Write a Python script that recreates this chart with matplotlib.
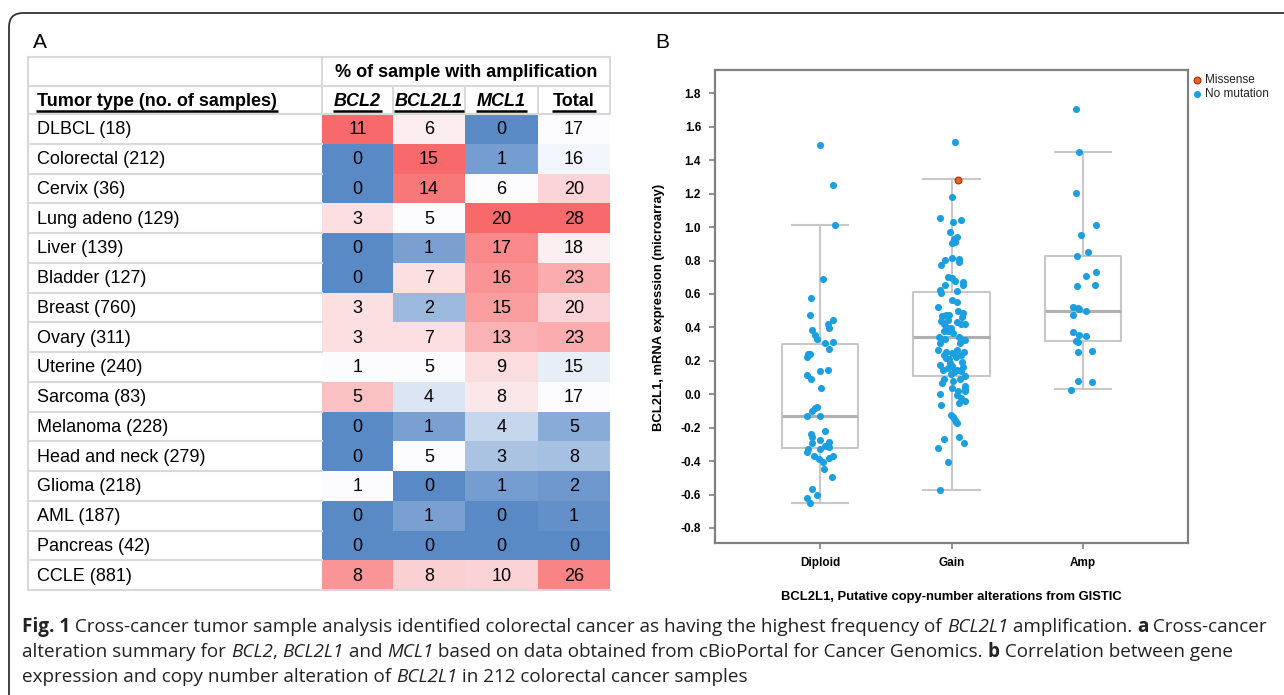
import matplotlib

matplotlib.use("Agg")
import matplotlib.pyplot as plt
from matplotlib.colors import LinearSegmentedColormap, TwoSlopeNorm
from matplotlib.patches import FancyBboxPatch, Rectangle

plt.rcParams["axes.unicode_minus"] = False

W, H = 1284, 695

# ── panel A data ──────────────────────────────────────────────────────────────
tumor_types = ["DLBCL (18)", "Colorectal (212)", "Cervix (36)", "Lung adeno (129)",
               "Liver (139)", "Bladder (127)", "Breast (760)", "Ovary (311)",
               "Uterine (240)", "Sarcoma (83)", "Melanoma (228)",
               "Head and neck (279)", "Glioma (218)", "AML (187)",
               "Pancreas (42)", "CCLE (881)"]
bcl2 = [11, 0, 0, 3, 0, 0, 3, 3, 1, 5, 0, 0, 1, 0, 0, 8]
bcl2l1 = [6, 15, 14, 5, 1, 7, 2, 7, 5, 4, 1, 5, 0, 1, 0, 8]
mcl1 = [0, 1, 6, 20, 17, 16, 15, 13, 9, 8, 4, 3, 1, 0, 0, 10]
total = [17, 16, 20, 28, 18, 23, 20, 23, 15, 17, 5, 8, 2, 1, 0, 26]
columns = ["BCL2", "BCL2L1", "MCL1", "Total"]

# ── panel B data ──────────────────────────────────────────────────────────────
groups = ["Diploid", "Gain", "Amp"]
diploid_expr = [1.494, 1.25, 1.01, 0.69, 0.578, 0.474, 0.444, 0.418, 0.396, 0.384,
                0.355, 0.329, 0.305, 0.311, 0.269, 0.241, 0.239, 0.221, 0.139, 0.147,
                0.118, 0.092, 0.040, -0.078, -0.084, -0.10, -0.131, -0.129, -0.217,
                -0.237, -0.253, -0.275, -0.293, -0.287, -0.309, -0.313, -0.325,
                -0.325, -0.345, -0.371, -0.371, -0.382, -0.388, -0.408, -0.448,
                -0.494, -0.564, -0.622, -0.604, -0.653]
diploid_jit = [0.00, 0.10, 0.11, 0.02, -0.07, -0.08, 0.10, 0.06, 0.07, -0.06,
               -0.04, -0.02, 0.04, 0.10, 0.07, -0.09, -0.075, -0.10, 0.00, 0.06,
               -0.10, -0.07, 0.01, -0.02, -0.04, -0.06, -0.10, 0.00, 0.04,
               -0.07, -0.06, 0.00, -0.06, 0.07, 0.04, 0.07, -0.09,
               0.00, -0.10, -0.05, 0.10, 0.07, -0.01, 0.02, 0.03,
               0.09, -0.06, -0.10, -0.025, -0.08]
gain_expr = [1.508, 1.182, 1.054, 1.028, 1.042, 0.97, 0.94, 0.93, 0.904, 0.908,
             0.816, 0.804, 0.81, 0.79, 0.774, 0.704, 0.698, 0.678, 0.672, 0.654,
             0.654, 0.622, 0.618, 0.604, 0.566, 0.554, 0.524, 0.498, 0.488, 0.474,
             0.468, 0.472, 0.460, 0.44, 0.444, 0.418, 0.434, 0.42, 0.42, 0.40,
             0.396, 0.378, 0.378, 0.365, 0.34, 0.345, 0.333, 0.325, 0.325, 0.305,
             0.309, 0.265, 0.255, 0.265, 0.255, 0.249, 0.237, 0.235, 0.215, 0.213,
             0.225, 0.177, 0.185, 0.193, 0.171, 0.155, 0.145, 0.147, 0.165, 0.139,
             0.133, 0.122, 0.11, 0.09, 0.082, 0.09, 0.066, 0.05, 0.03, 0.04,
             0.022, 0.022, 0.004, -0.004, -0.024, -0.038, -0.05, -0.064, -0.125,
             -0.137, -0.157, -0.173, -0.165, -0.253, -0.289, -0.267, -0.323,
             -0.408, -0.572]
gain_jit = [0.03, 0.00, -0.09, 0.01, 0.07, -0.01, 0.045, 0.02, 0.00, 0.03,
            0.00, -0.05, 0.06, 0.06, -0.08, -0.03, 0.00, 0.03, 0.09, -0.05,
            0.09, -0.09, 0.04, -0.08, 0.00, 0.04, -0.10, 0.05, 0.09, -0.04,
            -0.07, -0.02, 0.08, -0.08, -0.025, -0.06, 0.04, 0.07, 0.10, -0.045,
            -0.005, -0.055, -0.025, 0.015, -0.095, 0.06, -0.05, 0.08, 0.105, -0.09,
            0.065, -0.105, -0.04, 0.045, 0.095, 0.00, -0.055, 0.07, -0.04, -0.02,
            0.035, -0.09, -0.01, 0.08, 0.005, -0.03, -0.065, 0.04, 0.09, 0.07,
            0.02, -0.005, 0.105, -0.055, 0.015, 0.065, -0.07, 0.10, 0.10, 0.005,
            0.05, 0.10, -0.09, 0.04, 0.075, 0.10, 0.06, -0.08, -0.005,
            0.01, 0.025, 0.045, 0.035, 0.055, 0.095, -0.055, -0.10,
            -0.03, -0.09]
amp_expr = [1.706, 1.448, 1.204, 1.012, 0.95, 0.852, 0.828, 0.734, 0.71, 0.652,
            0.646, 0.524, 0.518, 0.508, 0.496, 0.472, 0.37, 0.357, 0.347, 0.319,
            0.313, 0.253, 0.261, 0.08, 0.076, 0.024]
amp_jit = [-0.053, -0.03, -0.053, 0.10, -0.013, 0.04, -0.047, 0.10, 0.025, 0.094,
           -0.044, -0.072, -0.04, -0.03, 0.02, -0.078, -0.075, -0.03, 0.02, -0.056,
           -0.04, -0.035, 0.072, -0.035, 0.07, -0.094]
missense_expr = [1.284]   # one sample in the Gain group
missense_jit = [0.05]

box_whislo = [-0.65, -0.57, 0.03]
box_q1 = [-0.32, 0.11, 0.32]
box_med = [-0.13, 0.34, 0.50]
box_q3 = [0.30, 0.61, 0.83]
box_whishi = [1.01, 1.29, 1.45]

# ── style ─────────────────────────────────────────────────────────────────────
BLUE_C = "#5a8ac6"
WHITE_C = "#fcfcff"
RED_C = "#f8696b"
GRID = "#d9d9d9"
DOT = "#1a9fe0"
BOXC = "#c8c8c8"
TFONT = "Liberation Sans"
CFONT = "Open Sans"
# colour-scale centre per column (each column is scaled on its own)
col_centre = [1, 5, 6, 17]

cmap = LinearSegmentedColormap.from_list("rwb", [BLUE_C, WHITE_C, RED_C])

fig = plt.figure(figsize=(W / 100, H / 100), dpi=100)
bg = fig.add_axes([0, 0, 1, 1])
bg.set_xlim(0, W)
bg.set_ylim(H, 0)
bg.axis("off")
rend = fig.canvas.get_renderer()

# outer rounded frame (runs off the right and bottom edges)
bg.add_patch(FancyBboxPatch((9, 13), 1400, 800,
                            boxstyle="round,pad=0,rounding_size=14",
                            fc="none", ec="#333333", lw=1.3, zorder=1))

# ── panel A: table ────────────────────────────────────────────────────────────
bg.text(33, 42, "A", fontsize=15, family=TFONT, va="center", ha="left")

xl0, xl1 = 28, 322
edges = [322, 393, 465, 538, 610]
yh0, yh1, yh2 = 57, 86, 114
rh = 29.75
nrow = len(tumor_types)
ybot = yh2 + nrow * rh

table_cols = [bcl2, bcl2l1, mcl1, total]
for j, vals in enumerate(table_cols):
    norm = TwoSlopeNorm(vmin=min(vals), vcenter=col_centre[j], vmax=max(vals))
    for i, v in enumerate(vals):
        y0 = yh2 + i * rh
        bg.add_patch(Rectangle((edges[j], y0), edges[j + 1] - edges[j], rh,
                               fc=cmap(norm(v)), ec="none", zorder=2))
        bg.text((edges[j] + edges[j + 1]) / 2, y0 + rh / 2 + 1, str(v),
                fontsize=13, family=TFONT, ha="center", va="center", zorder=4)

for i, name in enumerate(tumor_types):
    bg.text(37, yh2 + i * rh + rh / 2 + 1, name, fontsize=13, family=TFONT,
            ha="left", va="center", zorder=4)

# grid lines
gl = dict(color=GRID, lw=1.5, zorder=3)
for y in (yh0, yh1, yh2):
    bg.plot([xl0, edges[-1]], [y, y], **gl)
for i in range(1, nrow):
    bg.plot([xl0, xl1], [yh2 + i * rh] * 2, **gl)
bg.plot([xl0, edges[-1]], [ybot, ybot], **gl)
bg.plot([xl0, xl0], [yh0, ybot], **gl)
bg.plot([xl1, xl1], [yh0, yh2], **gl)
bg.plot([edges[-1], edges[-1]], [yh0, yh2], **gl)
for x in edges[1:-1]:
    bg.plot([x, x], [yh1, yh2], **gl)

# headers
bg.text((edges[0] + edges[-1]) / 2, (yh0 + yh1) / 2 + 1, "% of sample with amplification",
        fontsize=13, fontweight="bold", family=TFONT, ha="center", va="center")


def underlined(x, y, s, ha, italic=False):
    t = bg.text(x, y, s, fontsize=13, fontweight="bold", family=TFONT,
                style="italic" if italic else "normal", ha=ha, va="center", zorder=4)
    bb = t.get_window_extent(renderer=rend)
    uy = H - bb.y0 + 1
    bg.plot([bb.x0 - 1, bb.x1 + 1], [uy, uy], color="black", lw=1.8, zorder=4,
            solid_capstyle="butt")


underlined(37, (yh1 + yh2) / 2 + 1, "Tumor type (no. of samples)", "left")
for j, name in enumerate(columns):
    underlined((edges[j] + edges[j + 1]) / 2, (yh1 + yh2) / 2 + 1, name, "center",
               italic=(name != "Total"))

# ── panel B: box + strip plot ─────────────────────────────────────────────────
bg.text(655, 42, "B", fontsize=15, family=TFONT, va="center", ha="left")

ax = fig.add_axes([715 / W, (H - 543) / H, 473 / W, (543 - 70) / H])
stats = [dict(whislo=box_whislo[k], q1=box_q1[k], med=box_med[k], q3=box_q3[k],
              whishi=box_whishi[k]) for k in range(len(groups))]
ax.bxp(stats, positions=range(len(groups)), widths=0.58, capwidths=0.43,
       showfliers=False,
       boxprops=dict(color=BOXC, lw=1.5),
       whiskerprops=dict(color=BOXC, lw=1.5),
       capprops=dict(color=BOXC, lw=1.5),
       medianprops=dict(color="#b0b0b0", lw=2.2))

for k, (ex, jt) in enumerate([(diploid_expr, diploid_jit), (gain_expr, gain_jit),
                              (amp_expr, amp_jit)]):
    ax.scatter([k + d for d in jt], ex, s=26, color=DOT, lw=0, zorder=3)
ax.scatter([1 + d for d in missense_jit], missense_expr, s=24, color="#e8641c",
           edgecolor="#b0280a", lw=0.8, zorder=4)

ax.set_xlim(-0.8, 2.8)
ax.set_ylim(-0.89, 1.94)
ax.set_yticks([-0.8, -0.6, -0.4, -0.2, 0.0, 0.2, 0.4, 0.6, 0.8, 1.0, 1.2, 1.4, 1.6, 1.8])
ax.set_xticks(range(len(groups)))
ax.set_xticklabels(groups)
ax.tick_params(axis="both", length=4, width=1.2, color="#808080", pad=6,
               labelsize=8.5)
for lab in ax.get_xticklabels() + ax.get_yticklabels():
    lab.set_fontweight("bold")
    lab.set_family(TFONT)
for sp in ax.spines.values():
    sp.set_color("#808080")
    sp.set_linewidth(1.6)

bg.text(951, 597, "BCL2L1, Putative copy-number alterations from GISTIC",
        fontsize=9.4, fontweight="bold", family=TFONT, ha="center", va="center")
bg.text(659, 307, "BCL2L1, mRNA expression (microarray)", rotation=90,
        fontsize=9.4, fontweight="bold", family=TFONT, ha="center", va="center")

# legend
bg.scatter([1197], [80], s=24, color="#e8641c", edgecolor="#b0280a", lw=0.8)
bg.scatter([1197], [94], s=26, color=DOT, lw=0)
bg.text(1205, 80, "Missense", fontsize=8.5, family=TFONT, va="center", color="#222222")
bg.text(1205, 94, "No mutation", fontsize=8.5, family=TFONT, va="center", color="#222222")

# ── caption ───────────────────────────────────────────────────────────────────
caption = [
    [("Fig. 1", "b"), (" Cross-cancer tumor sample analysis identified colorectal cancer as "
                       "having the highest frequency of ", "n"), ("BCL2L1", "i"),
     (" amplification. ", "n"), ("a", "b"), (" Cross-cancer", "n")],
    [("alteration summary for ", "n"), ("BCL2", "i"), (", ", "n"), ("BCL2L1", "i"),
     (" and ", "n"), ("MCL1", "i"),
     (" based on data obtained from cBioPortal for Cancer Genomics. ", "n"), ("b", "b"),
     (" Correlation between gene", "n")],
    [("expression and copy number alteration of ", "n"), ("BCL2L1", "i"),
     (" in 212 colorectal cancer samples", "n")],
]
cap_y = [627, 652, 677]
for line, y in zip(caption, cap_y):
    x = 22
    for s, st in line:
        t = bg.text(x, y, s, fontsize=13.6, family=CFONT, color="#222222",
                    fontweight="bold" if st == "b" else "normal",
                    style="italic" if st == "i" else "normal",
                    ha="left", va="center")
        x += t.get_window_extent(renderer=rend).width

fig.savefig("out.png", dpi=100, facecolor="white")
